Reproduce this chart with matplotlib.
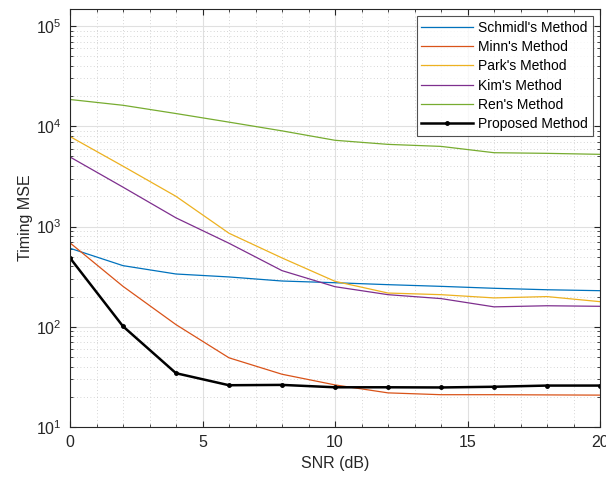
import matplotlib
matplotlib.use("Agg")
import matplotlib.pyplot as plt
from matplotlib.ticker import LogLocator, MultipleLocator, NullFormatter

plt.rcParams['font.family'] = ['Liberation Sans', 'DejaVu Sans']
plt.rcParams['mathtext.fontset'] = 'custom'
plt.rcParams['mathtext.rm'] = 'Liberation Sans'
plt.rcParams['mathtext.it'] = 'Liberation Sans:italic'

snr = [0, 2, 4, 6, 8, 10, 12, 14, 16, 18, 20]
schmidl = [607, 407, 336, 314, 286, 275, 263, 253, 242, 234, 229]
minn = [687, 253, 105, 49, 33.6, 26.3, 21.9, 21.0, 21.0, 20.9, 20.8]
park = [7900, 4000, 2000, 857, 486, 284, 217, 209, 194, 200, 178]
kim = [4940, 2470, 1220, 681, 363, 251, 209, 191, 158, 162, 160]
ren = [18500, 16200, 13400, 11000, 9000, 7250, 6600, 6300, 5450, 5370, 5250]
proposed = [486, 101, 34.4, 26.1, 26.3, 24.9, 24.9, 24.8, 25.2, 25.9, 25.9]

labels = ["Schmidl's Method", "Minn's Method", "Park's Method",
          "Kim's Method", "Ren's Method", "Proposed Method"]
colors = ['#0072BD', '#D95319', '#EDB120', '#7E2F8E', '#77AC30', 'black']

fig = plt.figure(figsize=(6.06, 4.79), dpi=100)
ax = fig.add_axes([70/606, 1-427/479, 530/606, 418/479])

for y, lab, c in zip([schmidl, minn, park, kim, ren], labels[:5], colors[:5]):
    ax.plot(snr, y, color=c, lw=0.9, label=lab)
ax.plot(snr, proposed, color='black', lw=1.8, marker='.', markersize=5, label=labels[5])

ax.set_yscale('log')
ax.set_xlim(0, 20)
ax.set_ylim(10, 10**5.17)
ax.xaxis.set_major_locator(MultipleLocator(5))
ax.xaxis.set_minor_locator(MultipleLocator(1))
ax.yaxis.set_major_locator(LogLocator(base=10, numticks=10))
ax.yaxis.set_minor_locator(LogLocator(base=10, subs=range(2, 10), numticks=20))
ax.yaxis.set_minor_formatter(NullFormatter())

ax.grid(which='major', color='#e0e0e0', lw=0.8, ls='-')
ax.grid(which='minor', color='#c8c8c8', lw=0.6, ls=(0, (1, 3)))
ax.set_axisbelow(True)

ax.tick_params(which='both', direction='in', top=True, right=True,
               labelsize=11.5, colors='#262626', labelcolor='#262626')
ax.tick_params(axis='x', which='major', pad=6)
ax.tick_params(axis='y', which='major', pad=6)
ax.tick_params(which='major', length=4, width=0.8)
ax.tick_params(which='minor', length=2, width=0.6)
for s in ax.spines.values():
    s.set_color('#262626')
    s.set_linewidth(0.8)

ax.set_xlabel('SNR (dB)', fontsize=11.5, color='#262626', labelpad=4)
ax.set_ylabel('Timing MSE', fontsize=11.5, color='#262626', labelpad=2)

leg = ax.legend(loc='upper right', fontsize=10, handlelength=3.7,
                frameon=True, fancybox=False, edgecolor='#262626',
                borderaxespad=0.5, labelspacing=0.38, handletextpad=0.4,
                borderpad=0.35)
leg.get_frame().set_linewidth(0.8)

fig.savefig('out.png', dpi=100)
